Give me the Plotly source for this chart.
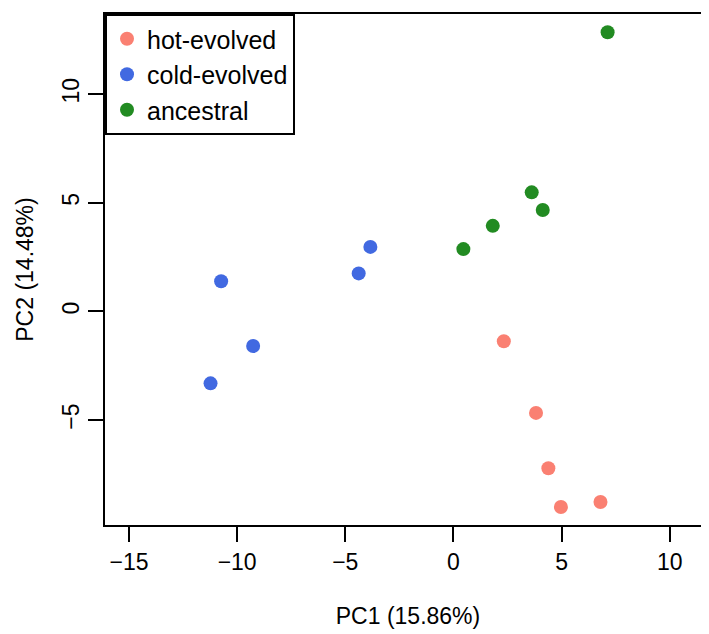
import plotly.graph_objects as go

groups = ["hot-evolved", "cold-evolved", "ancestral"]
colors = ["#FA8072", "#4169E1", "#228B22"]

hot_pc1 = [2.33, 3.82, 4.39, 4.97, 6.80]
hot_pc2 = [-1.37, -4.67, -7.22, -9.00, -8.77]

cold_pc1 = [-3.84, -4.38, -10.74, -9.26, -11.23]
cold_pc2 = [2.97, 1.75, 1.39, -1.59, -3.31]

anc_pc1 = [3.62, 4.13, 1.82, 0.46, 7.13]
anc_pc2 = [5.48, 4.67, 3.94, 2.87, 12.85]

x_ticks = [-15, -10, -5, 0, 5, 10]
y_ticks = [-5, 0, 5, 10]

xs = [hot_pc1, cold_pc1, anc_pc1]
ys = [hot_pc2, cold_pc2, anc_pc2]

FONT = "Liberation Sans, Arial, sans-serif"

fig = go.Figure()
for name, col, x, y in zip(groups, colors, xs, ys):
    fig.add_trace(go.Scatter(
        x=x, y=y, mode="markers", name=name,
        marker=dict(color=col, size=14, line=dict(width=0)),
    ))

axis_common = dict(
    showgrid=False, zeroline=False,
    showline=True, mirror=True, linecolor="black", linewidth=2,
    ticks="outside", ticklen=15, tickwidth=2, tickcolor="black",
    tickfont=dict(family=FONT, size=23, color="black"),
)

fig.update_layout(
    width=709, height=634,
    margin=dict(l=97, r=6, t=4, b=117),
    paper_bgcolor="white", plot_bgcolor="white",
    font=dict(family=FONT, size=23, color="black"),
    xaxis=dict(range=[-16.11, 11.91], tickvals=x_ticks,
               title=dict(text="PC1 (15.86%)", standoff=34,
                          font=dict(family=FONT, size=23)),
               **axis_common),
    yaxis=dict(range=[-9.83, 13.69], tickvals=y_ticks, tickangle=-90,
               title=dict(text="PC2 (14.48%)", standoff=18,
                          font=dict(family=FONT, size=23)),
               **axis_common),
    legend=dict(
        x=0, y=1, xanchor="left", yanchor="top",
        bordercolor="black", borderwidth=2, bgcolor="white",
        font=dict(family=FONT, size=25, color="black"),
        itemsizing="trace",
        tracegroupgap=0,
    ),
    showlegend=True,
)

fig.write_html("out.html")
